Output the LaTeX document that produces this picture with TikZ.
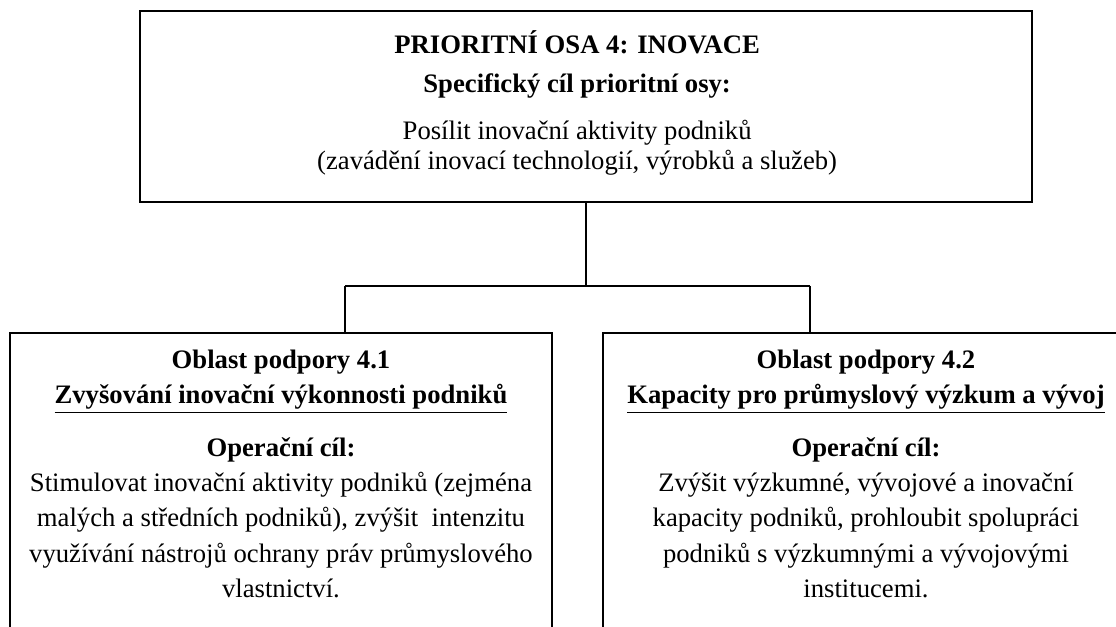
\documentclass[tikz,border=0pt]{standalone}
\usepackage{fontspec}
\setmainfont{Liberation Serif}
\usetikzlibrary{positioning}

\begin{document}
\begin{tikzpicture}[x=0.45pt, y=-0.45pt,
    box/.style={draw, line width=0.9pt, inner sep=0pt},
    txt/.style={align=center, inner sep=0pt, font=\fontsize{12}{15.8}\selectfont},
    toptxt/.style={align=center, inner sep=0pt, font=\fontsize{12}{13.8}\selectfont},
    conn/.style={line width=0.7pt}
  ]
    \useasboundingbox (0,0) rectangle (1116,627);
    \clip (0,0) rectangle (1116,627);
    % prioritni osa
    \node[box, anchor=north, minimum width=401.4pt, minimum height=86pt] (osa) at (586,10) {};
    \node[toptxt, below=9pt of osa.north, xshift=-4pt] (tosa)
      {\textbf{PRIORITNÍ OSA 4: INOVACE}\\[4pt]
       \textbf{Specifický cíl prioritní osy:}\\[7pt]
       Posílit inovační aktivity podniků\\
       (zavádění inovací technologií, výrobků a služeb)};
    % oblasti podpory
    \node[box, anchor=north west, minimum width=243.9pt, minimum height=200pt] (ob41) at (9,332) {};
    \node[box, anchor=north west, minimum width=236.7pt, minimum height=200pt] (ob42) at (602,332) {};
    \node[txt, below=8pt of ob41.north] (t41)
      {\textbf{Oblast podpory 4.1}\\
       \textbf{\underline{Zvyšování inovační výkonnosti podniků}}\\[8pt]
       \textbf{Operační cíl:}\\
       Stimulovat inovační aktivity podniků (zejména\\
       malých a středních podniků), zvýšit~ intenzitu\\
       využívání nástrojů ochrany práv průmyslového\\
       vlastnictví.};
    \node[txt, below=8pt of ob42.north] (t42)
      {\textbf{Oblast podpory 4.2}\\
       \textbf{\underline{Kapacity pro průmyslový výzkum a vývoj}}\\[8pt]
       \textbf{Operační cíl:}\\
       Zvýšit výzkumné, vývojové a inovační\\
       kapacity podniků, prohloubit spolupráci\\
       podniků s výzkumnými a vývojovými\\
       institucemi.};
    % spojnice
    \coordinate (jn) at (586,286);
    \coordinate (d41) at (345,286);
    \coordinate (d42) at (810,286);
    \draw[conn] (osa.south) -- (jn);
    \draw[conn] (d41) -- (d42);
    \draw[conn] (d41) -- (d41 |- ob41.north);
    \draw[conn] (d42) -- (d42 |- ob42.north);
\end{tikzpicture}
\end{document}
